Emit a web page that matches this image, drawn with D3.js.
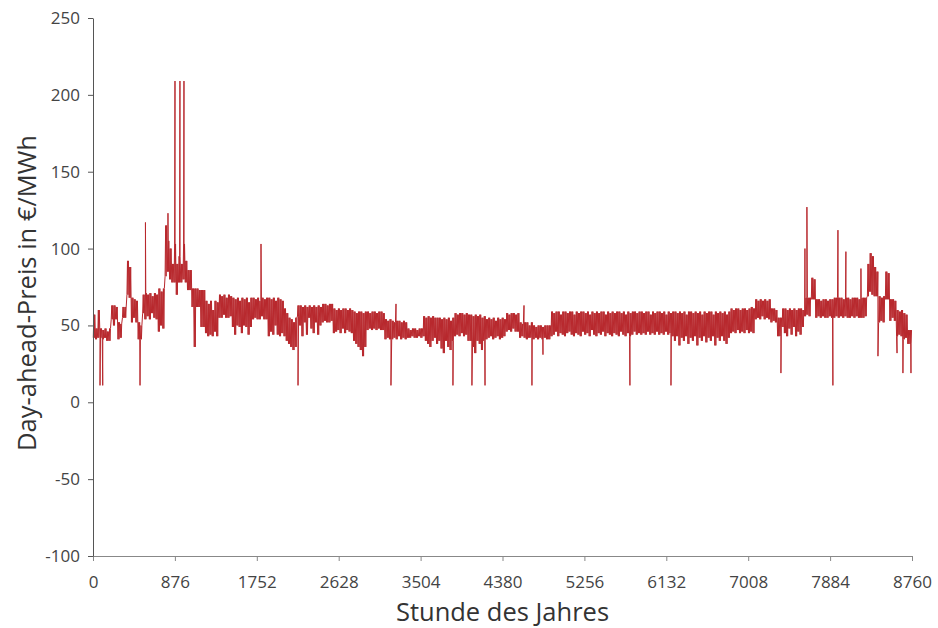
<html>
<head>
  <meta charset="utf-8">
  <title>Day-ahead-Preis</title>
  <script src="https://d3js.org/d3.v7.min.js"></script>
  <style>
    body { margin: 0; background: #fff; }
    text { font-family: "Open Sans", "Noto Sans", sans-serif; }
  </style>
</head>
<body>
<script>

// daily high / low prices (EUR/MWh), one row per week
var dayHigh = [
  57,48,60,48,47,48,46,  48,63,63,62,52,51,62,  62,92,88,68,67,66,52,  50,70,71,70,71,69,71,
  70,74,72,74,115,105,100, 90,103,90,95,90,103,92, 86,86,74,74,74,73,73, 73,66,64,66,60,66,65,
  70,69,70,68,70,69,68,  67,68,66,68,67,68,65,  68,68,67,68,66,68,67,  68,68,67,68,66,68,67,
  66,61,58,55,54,52,55,  63,63,62,63,62,63,62,  63,62,63,62,64,64,63,  64,64,61,60,61,60,61,
  61,60,61,60,59,58,59,  59,58,59,59,58,59,59,  58,59,59,58,54,53,54,  53,52,53,53,52,53,52,
  48,47,48,48,47,48,48,  56,55,56,55,56,55,55,  55,54,55,54,55,53,55,  58,57,58,58,57,58,57,
  57,56,57,56,57,55,56,  54,55,54,55,53,55,54,  55,54,58,57,58,58,57,  58,52,51,52,52,50,52,
  50,49,50,50,49,50,50,  50,59,58,59,59,57,59,  59,58,59,59,57,59,58,  59,59,58,59,57,59,58,
  59,58,59,59,57,59,58,  59,58,59,59,58,59,57,  59,58,59,59,58,59,59,  58,59,59,57,59,58,59,
  59,58,59,57,59,58,59,  59,58,59,58,59,57,59,  59,58,59,58,59,57,59,  58,59,59,57,59,58,59,
  58,59,57,59,61,60,61,  61,60,61,61,60,61,62,  61,67,66,67,66,67,66,  67,61,61,60,55,55,61,
  61,60,61,60,61,60,61,  61,60,68,68,68,81,80,  67,67,66,67,67,66,67,  67,68,68,68,68,67,68,
  68,67,68,68,68,67,68,  68,68,90,97,95,88,85,  69,68,69,85,84,67,67,  66,60,59,60,58,57,47,
  47
];
var dayLow = [
  42,41,42,42,41,42,40,  40,54,50,54,41,42,55,  55,70,68,52,55,52,41,  41,58,54,56,54,58,55,
  54,46,50,48,82,85,80,  78,78,70,78,78,80,78,  73,73,62,36,62,62,49,  49,45,43,44,43,46,43,
  55,55,57,55,55,56,49,  44,50,49,45,50,49,44,  49,54,55,54,54,56,54,  54,43,46,44,50,44,43,
  45,43,40,38,36,34,36,  56,50,43,52,44,55,48,  45,52,44,50,52,53,52,  52,53,45,46,47,45,48,
  45,47,46,45,40,38,36,  34,30,36,47,48,47,48,  47,48,47,47,41,42,41,  41,42,41,43,41,42,41,
  42,42,43,42,42,43,42,  43,40,38,36,40,42,38,  40,35,32,40,36,34,40,  43,44,43,45,43,44,40,
  40,36,32,40,38,34,40,  41,42,43,41,42,43,41,  42,43,46,47,46,48,46,  46,42,43,42,41,42,42,
  41,42,41,42,41,42,41,  41,43,44,46,43,45,44,  43,45,46,44,43,45,44,  43,46,44,45,43,47,44,
  43,45,44,46,43,45,44,  43,45,44,43,46,44,43,  45,43,44,46,44,45,44,  45,44,46,44,45,44,46,
  44,45,44,46,44,45,43,  40,43,37,42,40,43,38,  42,40,43,37,42,40,43,  39,42,40,43,37,42,40,
  43,40,38,42,45,46,45,  47,45,46,45,47,45,46,  45,54,55,54,56,54,55,  54,52,53,52,43,43,49,
  45,43,48,44,49,43,46,  44,49,56,57,56,67,67,  55,56,55,56,55,55,56,  55,55,56,55,56,55,56,
  55,55,56,55,56,55,55,  55,56,69,72,70,69,69,  52,53,52,67,67,53,55,  53,43,44,43,41,42,38,
  38
];

// single-hour spikes and dips: [hour, price]
var spikes = [
  [75, 11], [104, 11], [503, 11], [561, 117], [802, 123],
  [877, 209], [930, 209], [973, 209], [1797, 103], [2193, 11],
  [3187, 11], [3241, 64], [3850, 11], [4053, 11], [4193, 11],
  [4610, 63], [4695, 11], [4813, 31], [5743, 11], [6182, 11],
  [7358, 19], [7615, 100], [7636, 127], [7914, 11], [7968, 112],
  [8053, 98], [8214, 87], [8396, 30], [8600, 32], [8663, 19], [8749, 19]
];

var xTicks = [0, 876, 1752, 2628, 3504, 4380, 5256, 6132, 7008, 7884, 8760];
var yTicks = [-100, -50, 0, 50, 100, 150, 200, 250];

var width = 938,
    height = 628,
    margin = {top: 18, right: 26, bottom: 72, left: 93};

var svg = d3.select('body')
  .append('svg')
  .attr('width', width)
  .attr('height', height);

var x = d3.scaleLinear()
  .domain([0, 8760])
  .range([margin.left, width - margin.right]);

var y = d3.scaleLinear()
  .domain([-100, 250])
  .range([height - margin.bottom, margin.top]);

// hourly path: night low, morning peak, midday low, evening peak per day
var pts = [];
dayHigh.forEach(function(h, d) {
  pts.push([d * 24 + 3, dayLow[d]]);
  pts.push([d * 24 + 9, h]);
  pts.push([d * 24 + 14, dayLow[d]]);
  pts.push([d * 24 + 19, h]);
});
spikes.forEach(function(s) { pts.push(s); });
pts.sort(function(a, b) { return a[0] - b[0]; });

var line = d3.line()
  .x(function(d) { return x(d[0]); })
  .y(function(d) { return y(d[1]); });

svg.append('path')
  .datum(pts)
  .attr('fill', 'none')
  .attr('stroke', '#b8282d')
  .attr('stroke-width', 1)
  .attr('d', line);

// axes
var fmt = function(d) { return String(d); };

var xAxis = svg.append('g')
  .attr('transform', 'translate(0,' + y(-100) + ')')
  .call(d3.axisBottom(x).tickValues(xTicks).tickFormat(fmt)
    .tickSize(5).tickSizeOuter(0).tickPadding(15));

xAxis.select('.domain').attr('stroke', '#888');
xAxis.selectAll('.tick line').attr('stroke', '#888');
xAxis.selectAll('text').attr('font-size', 17).attr('fill', '#444');

var yAxis = svg.append('g')
  .attr('transform', 'translate(' + margin.left + ',0)')
  .call(d3.axisLeft(y).tickValues(yTicks).tickFormat(fmt)
    .tickSize(5).tickSizeOuter(0).tickPadding(8));

yAxis.select('.domain').attr('stroke', '#555');
yAxis.selectAll('.tick line').attr('stroke', '#555');
yAxis.selectAll('text').attr('font-size', 17).attr('fill', '#444');

svg.selectAll('.tick text').attr('font-family', '"Open Sans", "Noto Sans", sans-serif');

// axis titles
svg.append('text')
  .attr('x', (x(0) + x(8760)) / 2)
  .attr('y', 621)
  .attr('text-anchor', 'middle')
  .attr('font-size', 25.5)
  .attr('fill', '#333')
  .text('Stunde des Jahres');

svg.append('text')
  .attr('transform', 'translate(36,' + 293 + ')rotate(-90)')
  .attr('text-anchor', 'middle')
  .attr('font-size', 25.5)
  .attr('fill', '#333')
  .text('Day-ahead-Preis in €/MWh');

</script>
</body>
</html>
